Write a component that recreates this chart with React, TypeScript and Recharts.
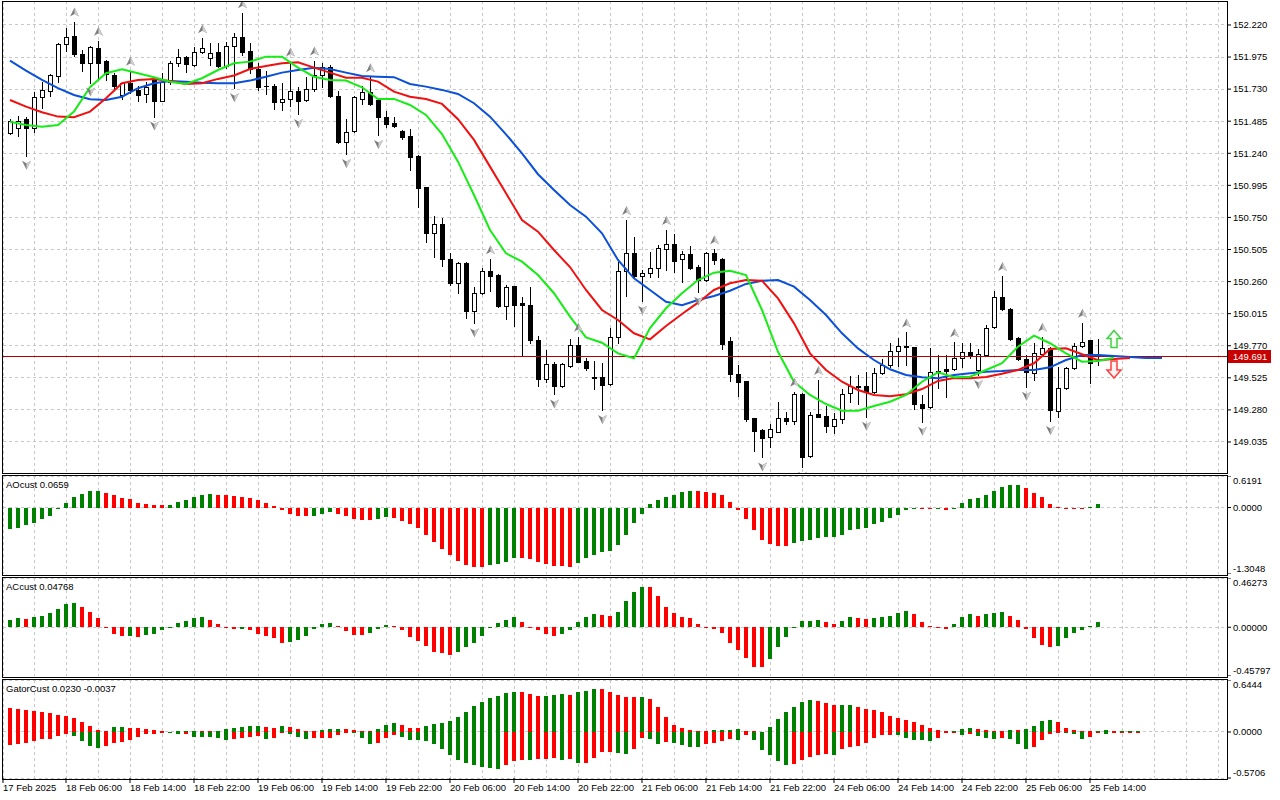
import React from 'react';
import { ComposedChart, Bar, Line, Scatter, XAxis, YAxis, ReferenceLine, CartesianGrid } from 'recharts';

const FONT = '"Liberation Sans", Arial, sans-serif';
const GREEN = '#008000';
const RED = '#ff0000';
const GRID = '#c8c8c8';

// ---------- candles (hourly bars, index 0 = 17 Feb 23:00) ----------
const opens = [
  151.392, 151.431, 151.502, 151.431, 151.673, 151.718, 151.830, 152.072, 152.136, 151.996,
  151.927, 152.042, 151.945, 151.838, 151.685, 151.774, 151.723, 151.690, 151.800, 151.642,
  151.787, 151.927, 151.973, 151.914, 152.011, 151.965, 152.011, 151.909, 152.062, 152.126,
  152.021, 151.881, 151.754, 151.754, 151.629, 151.652, 151.716, 151.645, 151.729, 151.838,
  151.902, 151.680, 151.329, 151.413, 151.655, 151.706, 151.647, 151.515, 151.469, 151.410,
  151.372, 151.219, 150.980, 150.628, 150.697, 150.430, 150.252, 150.404, 150.038, 150.170,
  150.341, 150.310, 150.076, 150.226, 150.094, 150.081, 149.814, 149.513, 149.630, 149.465,
  149.617, 149.775, 149.653, 149.531, 149.528, 149.475, 149.834, 150.341, 150.481, 150.305,
  150.323, 150.361, 150.506, 150.547, 150.430, 150.468, 150.369, 150.272, 150.481, 150.432,
  149.806, 149.554, 149.500, 149.215, 149.126, 149.075, 149.113, 149.215, 149.197, 149.401,
  148.927, 149.245, 149.233, 149.159, 149.207, 149.406, 149.465, 149.462, 149.419, 149.559,
  149.623, 149.732, 149.768, 149.758, 149.322, 149.299, 149.567, 149.590, 149.590, 149.674,
  149.725, 149.584, 149.699, 149.910, 150.145, 150.048, 149.826, 149.666, 149.559, 149.704,
  149.755, 149.274, 149.445, 149.597, 149.768, 149.811, 149.700,
];
const highs = [
  151.499, 151.525, 151.520, 151.711, 151.787, 151.846, 152.085, 152.195, 152.246, 152.029,
  152.060, 152.100, 151.953, 151.851, 151.780, 151.871, 151.754, 151.787, 151.820, 151.856,
  151.948, 152.034, 151.983, 152.055, 152.118, 152.080, 152.080, 152.093, 152.156, 152.309,
  152.080, 151.927, 151.869, 151.769, 151.774, 151.940, 151.744, 151.825, 151.948, 151.927,
  151.914, 151.716, 151.502, 151.680, 151.754, 151.820, 151.660, 151.563, 151.515, 151.418,
  151.426, 151.224, 150.985, 150.761, 150.743, 150.476, 150.412, 150.412, 150.221, 150.361,
  150.430, 150.315, 150.234, 150.229, 150.140, 150.216, 149.844, 149.737, 149.643, 149.640,
  149.819, 149.839, 149.674, 149.656, 149.640, 149.908, 150.412, 150.730, 150.603, 150.348,
  150.488, 150.539, 150.654, 150.621, 150.493, 150.532, 150.386, 150.488, 150.506, 150.437,
  149.839, 149.622, 149.500, 149.215, 149.131, 149.169, 149.342, 149.261, 149.419, 149.406,
  149.266, 149.508, 149.309, 149.253, 149.437, 149.541, 149.546, 149.566, 149.597, 149.669,
  149.788, 149.826, 149.872, 149.763, 149.394, 149.755, 149.699, 149.699, 149.796, 149.788,
  149.788, 149.742, 149.928, 150.188, 150.303, 150.061, 149.834, 149.699, 149.788, 149.839,
  149.763, 149.610, 149.610, 149.788, 149.946, 149.814, 149.819,
];
const lows = [
  151.387, 151.372, 151.222, 151.405, 151.589, 151.680, 151.787, 152.024, 151.983, 151.871,
  151.780, 151.800, 151.800, 151.723, 151.652, 151.698, 151.642, 151.634, 151.520, 151.637,
  151.769, 151.907, 151.864, 151.907, 152.004, 151.914, 151.902, 151.889, 151.736, 151.991,
  151.856, 151.723, 151.693, 151.578, 151.571, 151.601, 151.540, 151.642, 151.718, 151.749,
  151.673, 151.321, 151.235, 151.405, 151.617, 151.609, 151.380, 151.443, 151.443, 151.347,
  151.112, 150.827, 150.565, 150.445, 150.381, 150.234, 150.175, 149.979, 149.941, 150.162,
  150.188, 150.063, 149.974, 149.923, 149.699, 149.793, 149.462, 149.495, 149.398, 149.457,
  149.610, 149.645, 149.584, 149.437, 149.279, 149.470, 149.788, 150.150, 150.292, 150.114,
  150.292, 150.292, 150.348, 150.336, 150.259, 150.353, 150.183, 150.267, 150.394, 149.745,
  149.503, 149.386, 149.197, 148.968, 148.917, 148.999, 149.108, 149.172, 149.172, 148.846,
  148.917, 149.223, 149.108, 149.100, 149.177, 149.342, 149.325, 149.228, 149.406, 149.554,
  149.610, 149.615, 149.623, 149.287, 149.190, 149.292, 149.450, 149.381, 149.584, 149.605,
  149.679, 149.546, 149.691, 149.903, 150.043, 149.814, 149.661, 149.457, 149.508, 149.699,
  149.195, 149.228, 149.439, 149.590, 149.763, 149.483, 149.623,
];
const closes = [
  151.489, 151.489, 151.431, 151.673, 151.723, 151.836, 152.075, 152.131, 151.996, 151.927,
  152.049, 151.932, 151.846, 151.757, 151.774, 151.723, 151.688, 151.744, 151.642, 151.787,
  151.927, 151.973, 151.920, 152.011, 152.042, 152.004, 151.909, 152.062, 152.126, 152.016,
  151.881, 151.749, 151.752, 151.629, 151.655, 151.716, 151.642, 151.729, 151.836, 151.902,
  151.680, 151.329, 151.405, 151.667, 151.706, 151.617, 151.515, 151.464, 151.451, 151.367,
  151.214, 150.977, 150.634, 150.697, 150.430, 150.252, 150.399, 150.038, 150.170, 150.341,
  150.305, 150.073, 150.216, 150.081, 150.081, 149.814, 149.513, 149.630, 149.465, 149.630,
  149.775, 149.648, 149.602, 149.526, 149.470, 149.834, 150.341, 150.481, 150.302, 150.323,
  150.361, 150.514, 150.547, 150.420, 150.468, 150.366, 150.272, 150.481, 150.425, 149.783,
  149.551, 149.495, 149.210, 149.121, 149.067, 149.134, 149.215, 149.197, 149.401, 148.922,
  149.240, 149.228, 149.159, 149.207, 149.398, 149.465, 149.452, 149.414, 149.564, 149.623,
  149.732, 149.768, 149.758, 149.322, 149.297, 149.572, 149.579, 149.579, 149.674, 149.725,
  149.694, 149.707, 149.908, 150.145, 150.048, 149.821, 149.666, 149.572, 149.712, 149.755,
  149.279, 149.450, 149.597, 149.768, 149.801, 149.640, 149.691,
];

// ---------- Alligator lines, read every 2 bars (index 0,2,4,...) ----------
const LINE_STEP = 2;
const jawPts = [
  151.947, 151.871, 151.800, 151.737, 151.685, 151.652, 151.647, 151.672, 151.737, 151.775,
  151.792, 151.787, 151.779, 151.775, 151.775, 151.795, 151.825, 151.856, 151.876, 151.894,
  151.884, 151.856, 151.830, 151.825, 151.821, 151.769, 151.749, 151.724, 151.693, 151.622,
  151.520, 151.385, 151.240, 151.080, 150.960, 150.845, 150.756, 150.629, 150.425, 150.285,
  150.196, 150.106, 150.079, 150.119, 150.150, 150.190, 150.242, 150.267, 150.272, 150.221,
  150.119, 150.005, 149.865, 149.750, 149.661, 149.590, 149.546, 149.529, 149.521, 149.546,
  149.559, 149.572, 149.577, 149.585, 149.585, 149.605, 149.661, 149.699, 149.699, 149.692,
  149.684, 149.676, 149.676,
];
const teethPts = [
  151.647, 151.596, 151.553, 151.520, 151.515, 151.558, 151.660, 151.775, 151.800, 151.808,
  151.792, 151.769, 151.775, 151.808, 151.834, 151.884, 151.907, 151.928, 151.935, 151.894,
  151.856, 151.817, 151.817, 151.787, 151.711, 151.672, 151.655, 151.617, 151.500, 151.342,
  151.138, 150.934, 150.730, 150.641, 150.501, 150.371, 150.196, 150.043, 149.967, 149.865,
  149.819, 149.921, 150.012, 150.099, 150.196, 150.247, 150.272, 150.267, 150.132, 149.941,
  149.712, 149.585, 149.495, 149.432, 149.394, 149.384, 149.399, 149.439, 149.501, 149.524,
  149.521, 149.531, 149.556, 149.585, 149.636, 149.745, 149.750, 149.705, 149.659, 149.669,
  149.676,
];
const lipsPts = [
  151.481, 151.456, 151.443, 151.456, 151.558, 151.744, 151.851, 151.882, 151.851, 151.821,
  151.787, 151.769, 151.813, 151.876, 151.927, 151.940, 151.978, 151.978, 151.894, 151.825,
  151.800, 151.795, 151.744, 151.655, 151.655, 151.609, 151.533, 151.387, 151.176, 150.921,
  150.654, 150.476, 150.412, 150.310, 150.171, 149.992, 149.834, 149.793, 149.712, 149.674,
  149.905, 150.056, 150.171, 150.272, 150.328, 150.343, 150.310, 150.043, 149.724, 149.495,
  149.394, 149.325, 149.274, 149.274, 149.310, 149.342, 149.394, 149.495, 149.567, 149.529,
  149.533, 149.585, 149.636, 149.763, 149.847, 149.789, 149.712, 149.648, 149.653, 149.679,
];

// ---------- fractals (bar indices) ----------
const fractalUpIdx = [8, 11, 15, 24, 29, 35, 38, 45, 60, 71, 77, 82, 88, 98, 101, 112, 118, 124, 129, 134];
const fractalDnIdx = [2, 10, 18, 28, 36, 42, 46, 58, 68, 74, 79, 86, 94, 99, 107, 114, 121, 127, 130];

// ---------- signal arrows ----------
const signalUp = [{ i: 138, y: 149.818 }];
const signalDn = [{ i: 138, y: 149.592 }];
const lastPrice = 149.691;

// ---------- AO / AC / Gator ----------
const aoVals = [
  -0.43, -0.40, -0.35, -0.30, -0.22, -0.157, -0.01, 0.09, 0.21, 0.27,
  0.32, 0.33, 0.29, 0.24, 0.19, 0.17, 0.08, 0.07, 0.05, 0.045,
  0.055, 0.10, 0.157, 0.21, 0.25, 0.27, 0.25, 0.245, 0.22, 0.21,
  0.18, 0.145, 0.09, 0.03, -0.05, -0.12, -0.157, -0.17, -0.157, -0.12,
  -0.09, -0.12, -0.157, -0.22, -0.235, -0.24, -0.23, -0.195, -0.2, -0.26,
  -0.33, -0.41, -0.53, -0.674, -0.805, -0.94, -1.04, -1.12, -1.16, -1.165,
  -1.12, -1.10, -1.067, -0.99, -1.0, -1.01, -1.06, -1.10, -1.14, -1.145,
  -1.16, -1.08, -1.0, -0.94, -0.88, -0.845, -0.73, -0.53, -0.31, -0.12,
  0.07, 0.15, 0.21, 0.25, 0.31, 0.33, 0.32, 0.30, 0.28, 0.25,
  0.11, -0.04, -0.22, -0.45, -0.63, -0.71, -0.75, -0.755, -0.69, -0.65,
  -0.63, -0.59, -0.585, -0.58, -0.53, -0.45, -0.43, -0.40, -0.33, -0.275,
  -0.215, -0.14, -0.04, -0.02, -0.035, -0.036, -0.025, -0.05, -0.01, 0.09,
  0.16, 0.18, 0.25, 0.33, 0.41, 0.445, 0.45, 0.39, 0.29, 0.2,
  0.07, 0.015, -0.005, -0.008, -0.012, 0.005, 0.066,
];
const acVals = [
  0.068, 0.083, 0.082, 0.095, 0.11, 0.13, 0.17, 0.22, 0.23, 0.19,
  0.148, 0.083, -0.003, -0.065, -0.08, -0.079, -0.092, -0.07, -0.065, -0.03,
  -0.006, 0.037, 0.055, 0.083, 0.092, 0.065, 0.028, -0.003, -0.02, -0.015,
  -0.03, -0.065, -0.08, -0.1, -0.145, -0.138, -0.117, -0.08, -0.012, 0.028,
  0.037, 0.015, -0.034, -0.07, -0.071, -0.055, -0.015, 0.025, 0.012, -0.025,
  -0.09, -0.126, -0.18, -0.237, -0.246, -0.265, -0.237, -0.19, -0.145, -0.08,
  -0.003, 0.037, 0.065, 0.092, 0.046, 0.0, -0.03, -0.06, -0.08, -0.06,
  -0.03, 0.046, 0.092, 0.12, 0.118, 0.108, 0.148, 0.25, 0.33, 0.38,
  0.378, 0.295, 0.194, 0.13, 0.1, 0.083, 0.034, -0.003, -0.012, -0.052,
  -0.145, -0.218, -0.29, -0.375, -0.376, -0.3, -0.19, -0.09, 0.006, 0.055,
  0.056, 0.065, 0.046, 0.028, 0.055, 0.10, 0.083, 0.082, 0.084, 0.092,
  0.11, 0.138, 0.157, 0.12, 0.046, 0.009, 0.0, -0.02, 0.028, 0.1,
  0.12, 0.11, 0.12, 0.13, 0.148, 0.11, 0.065, -0.012, -0.105, -0.163,
  -0.19, -0.18, -0.105, -0.052, -0.022, 0.009, 0.048,
];
const gatorUpVals = [
  0.297, 0.284, 0.272, 0.26, 0.248, 0.24, 0.211, 0.199, 0.17, 0.126,
  0.077, 0.028, 0.016, 0.065, 0.066, 0.053, 0.052, 0.04, 0.028, 0.004,
  0.0, 0.012, 0.013, 0.016, 0.004, 0.002, 0.016, 0.04, 0.053, 0.065,
  0.077, 0.078, 0.065, 0.053, 0.077, 0.065, 0.04, 0.004, 0.003, 0.028,
  0.04, 0.041, 0.04, 0.028, 0.012, 0.011, 0.04, 0.089, 0.114, 0.089,
  0.053, 0.052, 0.077, 0.1, 0.114, 0.138, 0.187, 0.248, 0.32, 0.37,
  0.418, 0.443, 0.483, 0.5, 0.491, 0.475, 0.451, 0.452, 0.463, 0.467,
  0.455, 0.491, 0.504, 0.528, 0.527, 0.491, 0.455, 0.43, 0.429, 0.431,
  0.406, 0.309, 0.187, 0.089, 0.053, 0.028, 0.012, 0.004, 0.026, 0.028,
  0.03, 0.031, 0.016, 0.004, 0.0, 0.065, 0.162, 0.248, 0.309, 0.37,
  0.394, 0.382, 0.361, 0.333, 0.334, 0.335, 0.309, 0.284, 0.272, 0.248,
  0.199, 0.175, 0.15, 0.126, 0.089, 0.053, 0.024, 0.003, 0.012, 0.04,
  0.053, 0.04, 0.024, 0.012, 0.011, 0.028, 0.027, 0.04, 0.077, 0.138,
  0.15, 0.122, 0.053, 0.024, 0.016, 0.002, 0.016, 0.028, 0.012, 0.016,
  0.017, 0.018,
];
const gatorDnVals = [
  -0.159, -0.146, -0.134, -0.11, -0.085, -0.084, -0.049, -0.02, -0.049, -0.11,
  -0.171, -0.195, -0.171, -0.134, -0.122, -0.097, -0.061, -0.024, -0.023, -0.012,
  -0.013, -0.024, -0.023, -0.065, -0.066, -0.067, -0.073, -0.097, -0.085, -0.073,
  -0.061, -0.049, -0.085, -0.073, -0.012, -0.024, -0.061, -0.085, -0.073, -0.072,
  -0.071, -0.037, -0.012, -0.013, -0.073, -0.146, -0.134, -0.073, -0.037, -0.061,
  -0.097, -0.098, -0.11, -0.146, -0.207, -0.29, -0.353, -0.39, -0.414, -0.44,
  -0.45, -0.463, -0.414, -0.36, -0.345, -0.35, -0.335, -0.33, -0.328, -0.353,
  -0.33, -0.39, -0.389, -0.317, -0.244, -0.243, -0.256, -0.268, -0.215, -0.073,
  -0.085, -0.146, -0.122, -0.134, -0.158, -0.183, -0.184, -0.146, -0.134, -0.11,
  -0.085, -0.097, -0.037, -0.097, -0.22, -0.28, -0.366, -0.414, -0.402, -0.353,
  -0.305, -0.28, -0.268, -0.28, -0.207, -0.183, -0.171, -0.134, -0.073, -0.037,
  -0.036, -0.038, -0.073, -0.097, -0.098, -0.11, -0.073, -0.008, -0.007, -0.037,
  -0.024, -0.049, -0.073, -0.085, -0.073, -0.085, -0.146, -0.207, -0.183, -0.097,
  -0.024, -0.008, -0.01, -0.024, -0.085, -0.061, -0.012, -0.024, -0.008, -0.006,
  -0.004, -0.004,
];

// ---------- axes ----------
const priceTicks = [152.22, 151.975, 151.73, 151.485, 151.24, 150.995, 150.75, 150.505, 150.26, 150.015, 149.77, 149.525, 149.28, 149.035];
const timeTickIdx = [-0.875, 7, 15, 23, 31, 39, 47, 55, 63, 71, 79, 87, 95, 103, 111, 119, 127, 135];
const timeTickLabels = [
  '17 Feb 2025', '18 Feb 06:00', '18 Feb 14:00', '18 Feb 22:00', '19 Feb 06:00', '19 Feb 14:00',
  '19 Feb 22:00', '20 Feb 06:00', '20 Feb 14:00', '20 Feb 22:00', '21 Feb 06:00', '21 Feb 14:00',
  '21 Feb 22:00', '24 Feb 06:00', '24 Feb 14:00', '24 Feb 22:00', '25 Feb 06:00', '25 Feb 14:00',
];
const aoRange = [-1.3048, 0.6191];
const acRange = [-0.45797, 0.46273];
const gatorRange = [-0.5706, 0.6444];
const priceRange = [148.798, 152.403];
const aoLabel = 'AOcust 0.0659';
const acLabel = 'ACcust 0.04768';
const gatorLabel = 'GatorCust 0.0230 -0.0037';

const X_DOMAIN: [number, number] = [-0.875, 152.125];
const gridIdx = Array.from({ length: 38 }, (_, k) => 3 + 4 * k);

// ---------- derived rows ----------
const lastLineIdx = Math.max((jawPts.length - 1) * LINE_STEP, opens.length - 1);
const ptAt = (arr: number[], i: number) =>
  i % LINE_STEP === 0 && i / LINE_STEP < arr.length ? arr[i / LINE_STEP] : null;
const mainRows: any[] = [];
for (let i = 0; i <= lastLineIdx; i++) {
  const r: any = { i, jaw: ptAt(jawPts, i), teeth: ptAt(teethPts, i), lips: ptAt(lipsPts, i) };
  if (i < opens.length) {
    r.o = opens[i]; r.h = highs[i]; r.l = lows[i]; r.c = closes[i];
    r.range = [lows[i], highs[i]];
  }
  mainRows.push(r);
}
const fracUpData = fractalUpIdx.map((i) => ({ i, y: highs[i] }));
const fracDnData = fractalDnIdx.map((i) => ({ i, y: lows[i] }));
const histRows = (vals: number[]) =>
  vals.map((v, i) => ({ i, v, col: i === 0 || v > vals[i - 1] ? GREEN : RED }));
const aoRows = histRows(aoVals);
const acRows = histRows(acVals);
const gatorRows = gatorUpVals.map((up, i) => {
  const dn = gatorDnVals[i];
  return {
    i, up, dn, range: [dn, up],
    upCol: i > 0 && up > gatorUpVals[i - 1] ? GREEN : RED,
    dnCol: i > 0 && Math.abs(dn) > Math.abs(gatorDnVals[i - 1]) ? GREEN : RED,
  };
});

// ---------- shapes ----------
function Candle(props: any) {
  const { x, y, width, height, payload } = props;
  if (!payload || payload.o == null || y == null || height == null) return null;
  const top = Math.min(y, y + height);
  const h = Math.abs(height);
  const span = payload.h - payload.l;
  const k = span > 0 ? h / span : 0;
  const py = (p: number) => top + (payload.h - p) * k;
  const cx = Math.round(x + width / 2);
  const yo = py(payload.o);
  const yc = py(payload.c);
  const bTop = Math.round(Math.min(yo, yc)) + 0.5;
  const bBot = Math.round(Math.max(yo, yc)) + 0.5;
  const bull = payload.c >= payload.o;
  return (
    <g>
      <line x1={cx + 0.5} x2={cx + 0.5} y1={Math.round(top)} y2={Math.round(top + h) + 1} stroke="#000" strokeWidth={1} />
      {bBot - bTop < 1 ? (
        <line x1={cx - 2} x2={cx + 3} y1={bTop} y2={bTop} stroke="#000" strokeWidth={1} />
      ) : (
        <rect x={cx - 1.5} y={bTop} width={4} height={bBot - bTop} fill={bull ? '#fff' : '#000'} stroke="#000" strokeWidth={1} />
      )}
    </g>
  );
}

function FracUp(props: any) {
  const { cx, cy } = props;
  if (cx == null || cy == null) return null;
  const x = Math.round(cx) + 0.5;
  const y = cy - 9;
  return (
    <g>
      <path d={`M${x},${y - 5} L${x + 4.5},${y + 4} L${x},${y + 1.5} L${x - 4.5},${y + 4} Z`} fill="#7d7d7d" />
      <path d={`M${x},${y - 5} L${x + 4.5},${y + 4} L${x},${y + 1.5} Z`} fill="#cfcfcf" />
    </g>
  );
}
function FracDn(props: any) {
  const { cx, cy } = props;
  if (cx == null || cy == null) return null;
  const x = Math.round(cx) + 0.5;
  const y = cy + 9;
  return (
    <g>
      <path d={`M${x},${y + 5} L${x + 4.5},${y - 4} L${x},${y - 1.5} L${x - 4.5},${y - 4} Z`} fill="#7d7d7d" />
      <path d={`M${x},${y + 5} L${x + 4.5},${y - 4} L${x},${y - 1.5} Z`} fill="#cfcfcf" />
    </g>
  );
}
function SigUp(props: any) {
  const { cx, cy } = props;
  if (cx == null) return null;
  const d = `M${cx},${cy - 9} L${cx + 7},${cy - 1} L${cx + 3},${cy - 1} L${cx + 3},${cy + 8} L${cx - 3},${cy + 8} L${cx - 3},${cy - 1} L${cx - 7},${cy - 1} Z`;
  return <path d={d} fill="#f2fff2" stroke="#44d044" strokeWidth={1.5} />;
}
function SigDn(props: any) {
  const { cx, cy } = props;
  if (cx == null) return null;
  const d = `M${cx},${cy + 9} L${cx + 7},${cy + 1} L${cx + 3},${cy + 1} L${cx + 3},${cy - 8} L${cx - 3},${cy - 8} L${cx - 3},${cy + 1} L${cx - 7},${cy + 1} Z`;
  return <path d={d} fill="#fff2f2" stroke="#ff4040" strokeWidth={1.5} />;
}

function Hist(props: any) {
  const { x, y, width, height, payload } = props;
  if (!payload || y == null || height == null) return null;
  const t = Math.round(Math.min(y, y + height));
  const b = Math.round(Math.max(y, y + height));
  return <rect x={Math.round(x)} y={t} width={width} height={Math.max(b - t, 1)} fill={payload.col} />;
}

function GatorBar(props: any) {
  const { x, y, width, height, payload } = props;
  if (!payload || y == null || height == null) return null;
  const span = payload.up - payload.dn;
  if (!(span > 0)) return null;
  const top = Math.min(y, y + height);
  const h = Math.abs(height);
  const k = h / span;
  const zero = top + payload.up * k;
  const rx = Math.round(x);
  const z = Math.round(zero);
  const t = Math.round(top);
  const b = Math.round(zero - payload.dn * k);
  return (
    <g>
      {payload.up > 0 && <rect x={rx} y={Math.min(t, z - 1)} width={width} height={Math.max(z - t, 1)} fill={payload.upCol} />}
      {payload.dn < 0 && <rect x={rx} y={z} width={width} height={Math.max(b - z, 1)} fill={payload.dnCol} />}
    </g>
  );
}

function PriceTag(props: any) {
  const vb = props.viewBox || {};
  const x = (vb.x || 0) + (vb.width || 0) + 1;
  const y = Math.round(vb.y || 0);
  return (
    <g>
      <rect x={x} y={y - 6} width={43} height={13} fill="#c80000" />
      <text x={x + 5} y={y + 0.5} dy="0.35em" fill="#fff" fontSize={9.5} fontFamily={FONT}>
        {lastPrice.toFixed(3)}
      </text>
    </g>
  );
}

function PanelTick(props: any) {
  const { x, y, payload, digits, lo, hi } = props;
  const v = payload.value;
  const dy = v === hi ? 5 : v === lo ? -5 : 0;
  return (
    <text x={x} y={y + dy} dy="0.35em" fontSize={9.5} fontFamily={FONT} fill="#000" textAnchor="start">
      {v.toFixed(digits)}
    </text>
  );
}

function TimeTick(props: any) {
  const { x, y, payload } = props;
  const idx = timeTickIdx.indexOf(payload.value);
  return (
    <text x={x} y={y + 5} dy="0.35em" fontSize={9.5} fontFamily={FONT} fill="#000" textAnchor="start">
      {idx >= 0 ? timeTickLabels[idx] : ''}
    </text>
  );
}

// hidden axis that only carries the vertical grid positions
const gridAxis = (
  <XAxis xAxisId="g" type="number" dataKey="i" domain={X_DOMAIN} allowDataOverflow ticks={gridIdx} interval={0} hide />
);

const frame = (top: number, height: number) => (
  <div style={{ position: 'absolute', left: 2, top, width: 1226, height, border: '1px solid #000', boxSizing: 'border-box', pointerEvents: 'none' }} />
);

const labelStyle = (top: number): React.CSSProperties => ({
  position: 'absolute', left: 6, top, fontSize: '9.5px', lineHeight: '11px', fontFamily: FONT, color: '#000', whiteSpace: 'nowrap',
});

function HistPanel({ rows, range, digits, top }: any) {
  return (
    <div style={{ position: 'absolute', left: 0, top }}>
      <ComposedChart width={1280} height={98} data={rows} margin={{ top: 0, right: 0, bottom: 0, left: 3 }}>
        <XAxis type="number" dataKey="i" domain={X_DOMAIN} allowDataOverflow hide />
        {gridAxis}
        <YAxis
          orientation="right" width={53} domain={range} allowDataOverflow ticks={[range[1], 0, range[0]]} interval={0}
          axisLine={false} tickSize={4} tickMargin={2} tickLine={{ stroke: '#000' }}
          tick={(p: any) => <PanelTick {...p} digits={digits} lo={range[0]} hi={range[1]} />}
        />
        <CartesianGrid xAxisId="g" stroke={GRID} strokeDasharray="3 3" shapeRendering="crispEdges" />
        <Bar dataKey="v" barSize={4} isAnimationActive={false} shape={(p: any) => <Hist {...p} />} />
      </ComposedChart>
    </div>
  );
}

export default function App() {
  return (
    <div style={{ position: 'fixed', left: 0, top: 0, width: 1280, height: 800, background: '#fff', overflow: 'hidden' }}>
      {/* main price chart */}
      <div style={{ position: 'absolute', left: 0, top: 0 }}>
        <ComposedChart width={1280} height={474} data={mainRows} margin={{ top: 1, right: 0, bottom: 1, left: 3 }}>
          <XAxis type="number" dataKey="i" domain={X_DOMAIN} allowDataOverflow hide />
          {gridAxis}
          <YAxis
            orientation="right" width={53} domain={priceRange} allowDataOverflow ticks={priceTicks} interval={0}
            axisLine={false} tickSize={4} tickMargin={2} tickLine={{ stroke: '#000' }}
            tickFormatter={(v: number) => v.toFixed(3)}
            tick={{ fill: '#000', fontSize: 9.5, fontFamily: FONT }}
          />
          <CartesianGrid xAxisId="g" stroke={GRID} strokeDasharray="3 3" shapeRendering="crispEdges" />
          <Bar dataKey="range" barSize={4} isAnimationActive={false} shape={(p: any) => <Candle {...p} />} />
          <ReferenceLine y={lastPrice} stroke="#b40000" shapeRendering="crispEdges" label={(p: any) => <PriceTag {...p} />} />
          <Line type="linear" dataKey="jaw" stroke="#0a50d8" strokeWidth={2} dot={false} activeDot={false} connectNulls isAnimationActive={false} />
          <Line type="linear" dataKey="teeth" stroke="#f01010" strokeWidth={2} dot={false} activeDot={false} connectNulls isAnimationActive={false} />
          <Line type="linear" dataKey="lips" stroke="#16ec16" strokeWidth={2} dot={false} activeDot={false} connectNulls isAnimationActive={false} />
          <Scatter data={fracUpData} dataKey="y" isAnimationActive={false} shape={(p: any) => <FracUp {...p} />} />
          <Scatter data={fracDnData} dataKey="y" isAnimationActive={false} shape={(p: any) => <FracDn {...p} />} />
          <Scatter data={signalUp} dataKey="y" isAnimationActive={false} shape={(p: any) => <SigUp {...p} />} />
          <Scatter data={signalDn} dataKey="y" isAnimationActive={false} shape={(p: any) => <SigDn {...p} />} />
        </ComposedChart>
      </div>

      <HistPanel rows={aoRows} range={aoRange} digits={4} top={476} />
      <HistPanel rows={acRows} range={acRange} digits={5} top={578} />

      {/* gator panel with time axis */}
      <div style={{ position: 'absolute', left: 0, top: 680 }}>
        <ComposedChart width={1280} height={118} data={gatorRows} margin={{ top: 0, right: 0, bottom: 0, left: 3 }}>
          <XAxis
            type="number" dataKey="i" domain={X_DOMAIN} allowDataOverflow ticks={timeTickIdx} interval={0} height={20}
            axisLine={false} tickSize={5} tickMargin={0} tickLine={{ stroke: '#000' }} tick={(p: any) => <TimeTick {...p} />}
          />
          {gridAxis}
          <YAxis
            orientation="right" width={53} domain={gatorRange} allowDataOverflow ticks={[gatorRange[1], 0, gatorRange[0]]} interval={0}
            axisLine={false} tickSize={4} tickMargin={2} tickLine={{ stroke: '#000' }}
            tick={(p: any) => <PanelTick {...p} digits={4} lo={gatorRange[0]} hi={gatorRange[1]} />}
          />
          <CartesianGrid xAxisId="g" stroke={GRID} strokeDasharray="3 3" shapeRendering="crispEdges" />
          <Bar dataKey="range" barSize={4} isAnimationActive={false} shape={(p: any) => <GatorBar {...p} />} />
        </ComposedChart>
      </div>

      {frame(1, 473)}
      {frame(475, 101)}
      {frame(577, 101)}
      {frame(679, 101)}

      <div style={labelStyle(479)}>{aoLabel}</div>
      <div style={labelStyle(581)}>{acLabel}</div>
      <div style={labelStyle(683)}>{gatorLabel}</div>
    </div>
  );
}
